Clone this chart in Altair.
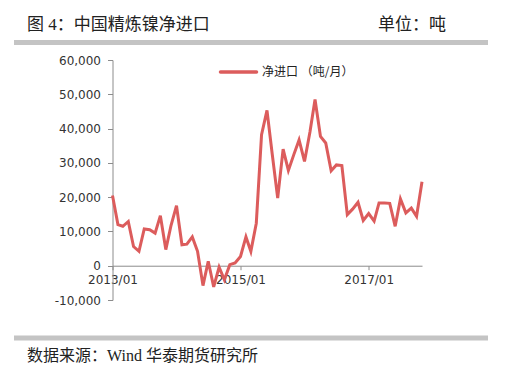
import altair as alt
import pandas as pd

# ---- data ----
years = [2013] * 12 + [2014] * 12 + [2015] * 12 + [2016] * 12 + [2017] * 11
months = list(range(1, 13)) * 4 + list(range(1, 12))
net_imports = [
    20500, 12000, 11500, 12900, 5600, 4200, 10700, 10500, 9500, 14600, 4700, 11800,
    17500, 6100, 6300, 8400, 4200, -5800, 1300, -6200, -400, -4100, 300, 800,
    2700, 8400, 4200, 12400, 38200, 45300, 32500, 19700, 34000, 27800, 32400, 36700,
    30400, 39000, 48500, 37700, 35800, 27700, 29400, 29200, 14900, 16500, 18500, 13200,
    15200, 13000, 18300, 18300, 18200, 11500, 19500, 15400, 16800, 14400, 24500,
]
series_name = "净进口 （吨/月）"
title_text = "图 4：中国精炼镍净进口"
unit_text = "单位：吨"
source_text = "数据来源：Wind  华泰期货研究所"
y_ticks = list(range(-10000, 60001, 10000))
x_tick_years = [2013, 2015, 2017]

df = pd.DataFrame({
    "date": [f"{y}-{m:02d}-01" for y, m in zip(years, months)],
    "value": net_imports,
})

W, H = 309.5, 240
YMIN, YMAX = -10000, 60000
zero_offset = -H * (0 - YMIN) / (YMAX - YMIN)

RED = "#dc5c5c"
AX = "#8c8c8c"
CJK = "Liberation Serif, Noto Sans CJK SC"

line = alt.Chart(df).mark_line(color=RED, strokeWidth=3).encode(
    x=alt.X(
        "date:T",
        scale=alt.Scale(
            type="utc",
            domain=[alt.DateTime(year=2013, month=1, date=1, utc=True),
                    alt.DateTime(year=2017, month=11, date=1, utc=True)],
            nice=False,
        ),
        axis=alt.Axis(
            values=[alt.DateTime(year=y, month=1, date=1, utc=True) for y in x_tick_years],
            format="%Y/%m",
            title=None,
            offset=zero_offset,
            tickSize=4,
            labelPadding=5,
            labelFlush=False,
            grid=False,
            domainColor=AX,
            tickColor=AX,
            labelFont="DejaVu Sans",
            labelFontSize=12,
            labelColor="#333333",
        ),
    ),
    y=alt.Y(
        "value:Q",
        scale=alt.Scale(domain=[YMIN, YMAX], nice=False),
        axis=alt.Axis(
            values=y_ticks,
            labelExpr="replace(format(datum.value, ','), '\u2212', '-')",
            title=None,
            tickSize=5,
            labelPadding=7,
            grid=False,
            domainColor=AX,
            tickColor=AX,
            labelFont="DejaVu Sans",
            labelFontSize=12,
            labelColor="#333333",
        ),
    ),
)

# legend (manual)
legend_line = alt.Chart(df.head(1)).mark_rule(color=RED, strokeWidth=3.5, strokeCap="round").encode(
    x=alt.value(108), x2=alt.value(144), y=alt.value(12)
)
legend_text = alt.Chart(df.head(1)).mark_text(
    align="left", baseline="middle", font="Noto Sans CJK SC", fontSize=12, color="#222222"
).encode(x=alt.value(149.5), y=alt.value(12), text=alt.value(series_name))

# header / footer decorations
bar_top = alt.Chart(df.head(1)).mark_rule(color="#c4c4c4", strokeWidth=5).encode(
    x=alt.value(-98.5), x2=alt.value(375.5), y=alt.value(-17.5)
)
bar_bot = alt.Chart(df.head(1)).mark_rule(color="#c4c4c4", strokeWidth=5).encode(
    x=alt.value(-98.5), x2=alt.value(375.5), y=alt.value(278)
)
title = alt.Chart(df.head(1)).mark_text(
    align="left", baseline="middle", font=CJK, fontSize=17, color="#222222"
).encode(x=alt.value(-85.5), y=alt.value(-35), text=alt.value(title_text))
unit = alt.Chart(df.head(1)).mark_text(
    align="left", baseline="middle", font=CJK, fontSize=17, color="#222222"
).encode(x=alt.value(265.5), y=alt.value(-35), text=alt.value(unit_text))
source = alt.Chart(df.head(1)).mark_text(
    align="left", baseline="middle", font=CJK, fontSize=16, color="#222222"
).encode(x=alt.value(-85.5), y=alt.value(295.5), text=alt.value(source_text))

chart = alt.layer(line, legend_line, legend_text, bar_top, bar_bot, title, unit, source).properties(
    width=W,
    height=H,
    autosize=alt.AutoSizeParams(type="none"),
    padding={"left": 104.5, "top": 52, "right": 74, "bottom": 70},
    background="white",
).configure_view(stroke=None)

chart.save("out.html", embed_options={"renderer": "svg", "actions": False})
